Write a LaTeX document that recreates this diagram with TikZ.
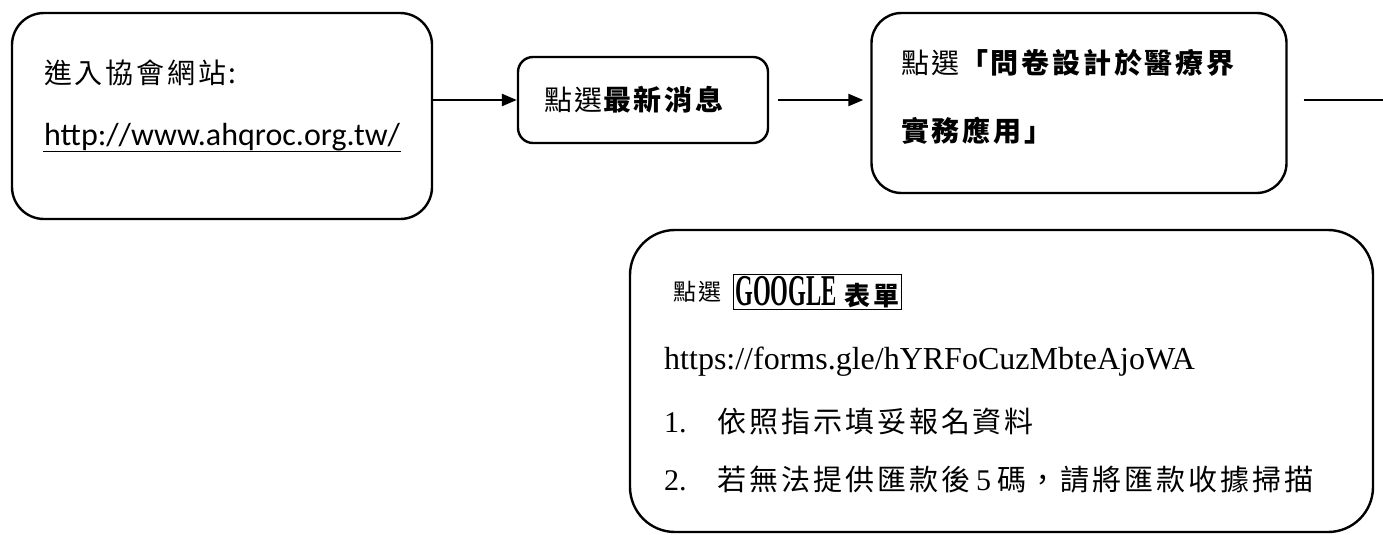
\documentclass[tikz,border=0pt]{standalone}
\usepackage{fontspec}
\usepackage{graphicx}
\setmainfont{Liberation Serif}
\newfontfamily\cjk{Noto Sans CJK TC}[LetterSpace=10]
\newfontfamily\calib{Carlito}
\newcommand{\cjkf}[1]{\cjk\fontsize{#1}{#1}\selectfont}
\usetikzlibrary{arrows.meta,positioning}

\tikzset{
  box/.style={draw, line width=2.4pt, inner sep=0pt},
  txt/.style={anchor=west, inner sep=0pt},
}

\begin{document}
\begin{tikzpicture}[x=1pt,y=-1pt,>={Triangle[length=15pt,width=12pt]},line width=2.4pt]
    \useasboundingbox (0,0) rectangle (1383,535);

    % boxes
    \node[box, rounded corners=32pt, minimum width=420pt, minimum height=206pt] (site)  at (222,116)   {};
    \node[box, rounded corners=15pt, minimum width=250pt, minimum height=86pt]  (news)  at (643,100)   {};
    \node[box, rounded corners=30pt, minimum width=415pt, minimum height=180pt] (quest) at (1079,103)  {};
    \node[box, rounded corners=45pt, minimum width=743pt, minimum height=302pt] (form)  at (1001.5,381) {};
    \coordinate (out) at (1383,100);

    % texts
    \node[txt] (siteA) at (43,73)  {\cjkf{28}進入協會網站:};
    \node[txt] (siteB) at (43,137) {\calib\fontsize{32}{32}\selectfont http://www.ahqroc.org.tw/};
    \draw[line width=1.6pt] ([yshift=-6pt]siteB.base west) -- ([yshift=-6pt]siteB.base east);

    \node[txt] (newsA) at (543,100) {\cjkf{28}點選\bfseries 最新消息};

    \node[txt] (questA) at (900,63)  {\cjkf{28}點選\bfseries 「問卷設計於醫療界};
    \node[txt] (questB) at (900,131) {\cjkf{28}\bfseries 實務應用」};

    \node[txt] (formA) at (672,292) {\cjkf{23}點選};
    \node[draw, line width=1pt, inner sep=2pt, right=10pt of formA] (formB)
      {\scalebox{0.52}[1]{\fontsize{44}{44}\selectfont\bfseries GOOGLE}\hspace{8pt}{\cjkf{26}\bfseries 表單}};
    \node[txt] (formC) at (663,362) {\fontsize{32}{32}\selectfont https://forms.gle/hYRFoCuzMbteAjoWA};
    \node[txt] (formD) at (663,422) {\fontsize{30}{30}\selectfont 1.\hspace{31pt}{\cjkf{29}依照指示填妥報名資料}};
    \node[txt] (formE) at (663,480) {\fontsize{30}{30}\selectfont 2.\hspace{31pt}{\cjkf{29}若無法提供匯款後}\hspace{6pt}5\hspace{6pt}{\cjkf{29}碼，請將匯款收據掃描}};

    \path[->]
    (site.east |- news) edge (news)
    (news.east) edge [shorten <=9pt, shorten >=7pt] (news.east -| quest.west)
    (quest.east |- out) edge [-, shorten <=16pt] (out)
    ;
\end{tikzpicture}
\end{document}
